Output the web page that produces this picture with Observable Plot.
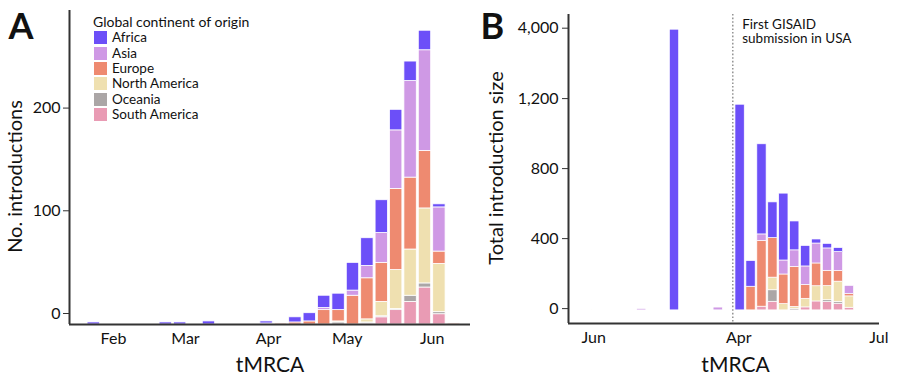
<!DOCTYPE html>
<html>
<head>
<meta charset="utf-8">
<script src="https://cdn.jsdelivr.net/npm/d3@7"></script>
<script src="https://cdn.jsdelivr.net/npm/@observablehq/plot@0.6"></script>
<style>
  html, body { margin: 0; padding: 0; background: #fff; }
  #root { position: relative; width: 900px; height: 380px; overflow: hidden; font-family: Lato, sans-serif; color: #111; }
  #panelA { position: absolute; left: 0; top: 0; }
  #panelB { position: absolute; left: 470px; top: 0; }
  #legend { position: absolute; left: 0; top: 0; width: 300px; height: 130px; }
  #legend .ttl { position: absolute; left: 93px; top: 13px; font-size: 14px; line-height: 17px; white-space: nowrap; }
  #legend .row { position: absolute; left: 94px; height: 15px; line-height: 15px; font-size: 13.5px; white-space: nowrap; }
  #legend .sw { display: inline-block; width: 13px; height: 13px; vertical-align: -2px; margin-right: 5px; }
</style>
</head>
<body>
<div id="root">
  <div id="panelA"></div>
  <div id="panelB"></div>
  <div id="legend"></div>
</div>
<script>
// ---------- shared ----------
const continents = ["Africa", "Asia", "Europe", "North America", "Oceania", "South America"];
const stackOrder = ["South America", "Oceania", "North America", "Europe", "Asia", "Africa"];
const palette = ["#6c4ff8", "#cf99e5", "#ee8a70", "#efe0b0", "#aba6a6", "#e99bb4"];
const legendTitle = "Global continent of origin";

// ---------- Panel A: number of introductions per bin ----------
const aSlots        = [0,1,2,3,4,5,6,7,8,9,10,11,12,13,14,15,16,17,18,19,20,21,22,23,24,25];
const aAfrica       = [2,0,0,0,0,2,2,0,3,0,0,0,2,0,5,8,12,16,27,27,32,20,19,19,3,0];
const aAsia         = [0,0,0,0,0,0,0,0,0,0,0,0,1,0,0,0,2,0,5,12,29,57,94,98,43,0];
const aEurope       = [0,0,0,0,0,0,0,0,0,0,0,0,0,1,2,3,14,11,28,40,38,79,70,56,12,1];
const aNorthAmerica = [0,0,0,0,0,0,0,0,0,0,0,0,0,0,0,0,0,1,0,3,14,38,45,73,47,0];
const aOceania      = [0,0,0,0,0,0,0,0,0,0,0,0,0,0,0,0,0,2,0,1,1,1,6,4,2,0];
const aSouthAmerica = [0,0,0,0,0,0,0,0,0,0,0,0,0,0,0,0,0,0,0,1,7,14,22,36,10,0];
const aYTicks = [0, 100, 200];
const aXTickPos = [1.37, 6.37, 12.14, 17.6, 23.5];
const aXTickLabels = ["Feb", "Mar", "Apr", "May", "Jun"];

// ---------- Panel B: total introduction size per week ----------
const bSlots        = [-14,-9,-6,-2,0,1,2,3,4,5,6,7,8,9,10];
const bAfrica       = [0,0,3950,0,1175,147,515,204,382,165,117,23,26,23,0];
const bAsia         = [0,8,0,16,0,0,38,0,80,95,106,114,128,108,47];
const bEurope       = [0,0,0,0,0,135,375,226,169,228,79,130,87,61,13];
const bNorthAmerica = [3,0,0,0,0,0,0,72,36,11,49,87,81,116,65];
const bOceania      = [0,0,0,0,0,0,0,66,0,9,0,0,11,10,0];
const bSouthAmerica = [0,0,0,0,0,0,21,49,0,0,17,51,47,38,15];
const bYTicks = [0, 400, 800, 1200, 4000];
const bXTickPos = [-13.39, -0.12, 12.69];
const bXTickLabels = ["Jun", "Apr", "Jul"];
const gisaidPos = -0.668;
const gisaidLabel = "First GISAID\nsubmission in USA";

// ---------- helpers ----------
function stackRows(slots, series, base) {
  const rows = [];
  slots.forEach((p, i) => {
    let y = base;
    for (const c of stackOrder) {
      const v = series[c][i];
      if (v > 0) { rows.push({pos: p, continent: c, y1: y, y2: y + v}); y += v; }
    }
  });
  return rows;
}

const aBase = -10.7;
const rowsA = stackRows(aSlots, {
  "Africa": aAfrica, "Asia": aAsia, "Europe": aEurope,
  "North America": aNorthAmerica, "Oceania": aOceania, "South America": aSouthAmerica
}, aBase);

const bBase = -10;
const rowsB = stackRows(bSlots, {
  "Africa": bAfrica, "Asia": bAsia, "Europe": bEurope,
  "North America": bNorthAmerica, "Oceania": bOceania, "South America": bSouthAmerica
}, bBase);

const baseStyle = {fontFamily: "Lato, sans-serif", fontSize: "16px", color: "#111", background: "transparent", overflow: "visible"};
const axisColor = "#333";

// ---------- Plot A ----------
const aXDomain = [-1.684, 26.16];
const aYDomain = [aBase, 295];
const plotA = Plot.plot({
  width: 475, height: 380,
  marginLeft: 69, marginRight: 5, marginTop: 10, marginBottom: 56,
  style: baseStyle,
  x: {domain: aXDomain},
  y: {domain: aYDomain},
  color: {domain: continents, range: palette},
  marks: [
    Plot.rect(rowsA, {x1: d => d.pos - 0.43, x2: d => d.pos + 0.43, y1: "y1", y2: "y2",
      fill: "continent", stroke: "white", strokeWidth: 0.8}),
    Plot.axisY({ticks: aYTicks, tickSize: 6, tickPadding: 3, fontSize: 16, label: null, stroke: axisColor}),
    Plot.axisX({ticks: aXTickPos, tickFormat: d => aXTickLabels[aXTickPos.indexOf(d)],
      tickSize: 0, tickPadding: 8, fontSize: 16, label: null}),
    Plot.ruleX([aXDomain[0]], {stroke: axisColor, strokeWidth: 2}),
    Plot.ruleY([aYDomain[0]], {stroke: axisColor, strokeWidth: 2}),
    Plot.text(["No. introductions"], {text: d => d, frameAnchor: "left", dx: -53.5, dy: 9, rotate: -90,
      textAnchor: "middle", lineAnchor: "middle", fontSize: 20}),
    Plot.text(["tMRCA"], {text: d => d, frameAnchor: "bottom", dy: 40.7, textAnchor: "middle", lineAnchor: "middle", fontSize: 21}),
    Plot.text(["A"], {text: d => d, frameAnchor: "top-left", dx: -61, dy: 3, textAnchor: "start",
      lineAnchor: "top", fontSize: 36, fontWeight: "bold"})
  ]
});
document.getElementById("panelA").append(plotA);

// ---------- Plot B ----------
const bXDomain = [-15.70, 12.754];
const bYDomain = [-85, 1200, 4545];
const plotB = Plot.plot({
  width: 430, height: 380,
  marginLeft: 98, marginRight: 21, marginTop: 14, marginBottom: 57,
  style: baseStyle,
  x: {domain: bXDomain},
  y: {type: "linear", domain: bYDomain, range: [323, 98.1, 14]},
  color: {domain: continents, range: palette},
  marks: [
    Plot.ruleX([gisaidPos], {stroke: "#8a8a8a", strokeWidth: 1.4, strokeDasharray: "1.6,2"}),
    Plot.rect(rowsB, {x1: d => d.pos - 0.425, x2: d => d.pos + 0.425, y1: "y1", y2: "y2",
      fill: "continent", stroke: "white", strokeWidth: 0.7}),
    Plot.axisY({ticks: bYTicks, tickFormat: d3.format(","), tickSize: 6, tickPadding: 4, fontSize: 16, label: null, stroke: axisColor}),
    Plot.axisX({ticks: bXTickPos, tickFormat: d => bXTickLabels[bXTickPos.indexOf(d)],
      tickSize: 0, tickPadding: 8, fontSize: 16, label: null}),
    Plot.ruleX([bXDomain[0]], {stroke: axisColor, strokeWidth: 2}),
    Plot.ruleY([bYDomain[0]], {stroke: axisColor, strokeWidth: 2}),
    Plot.text([gisaidLabel], {text: d => d, x: gisaidPos, frameAnchor: "top", dx: 9.4, dy: 4.3,
      textAnchor: "start", lineAnchor: "top", lineHeight: 1.04, fontSize: 13.5}),
    Plot.text(["Total introduction size"], {text: d => d, frameAnchor: "left", dx: -72.2, dy: -1, rotate: -90,
      textAnchor: "middle", lineAnchor: "middle", fontSize: 20}),
    Plot.text(["tMRCA"], {text: d => d, frameAnchor: "bottom", dx: 11.5, dy: 41.7, textAnchor: "middle", lineAnchor: "middle", fontSize: 21}),
    Plot.text(["B"], {text: d => d, frameAnchor: "top-left", dx: -88, dy: -1, textAnchor: "start",
      lineAnchor: "top", fontSize: 36, fontWeight: "bold"})
  ]
});
document.getElementById("panelB").append(plotB);

// ---------- Legend (HTML) ----------
const legend = document.getElementById("legend");
const ttl = document.createElement("div");
ttl.className = "ttl";
ttl.textContent = legendTitle;
legend.append(ttl);
continents.forEach((c, i) => {
  const row = document.createElement("div");
  row.className = "row";
  row.style.top = (30.2 + 15.4 * i) + "px";
  const sw = document.createElement("span");
  sw.className = "sw";
  sw.style.background = palette[i];
  row.append(sw, document.createTextNode(c));
  legend.append(row);
});
</script>
</body>
</html>
